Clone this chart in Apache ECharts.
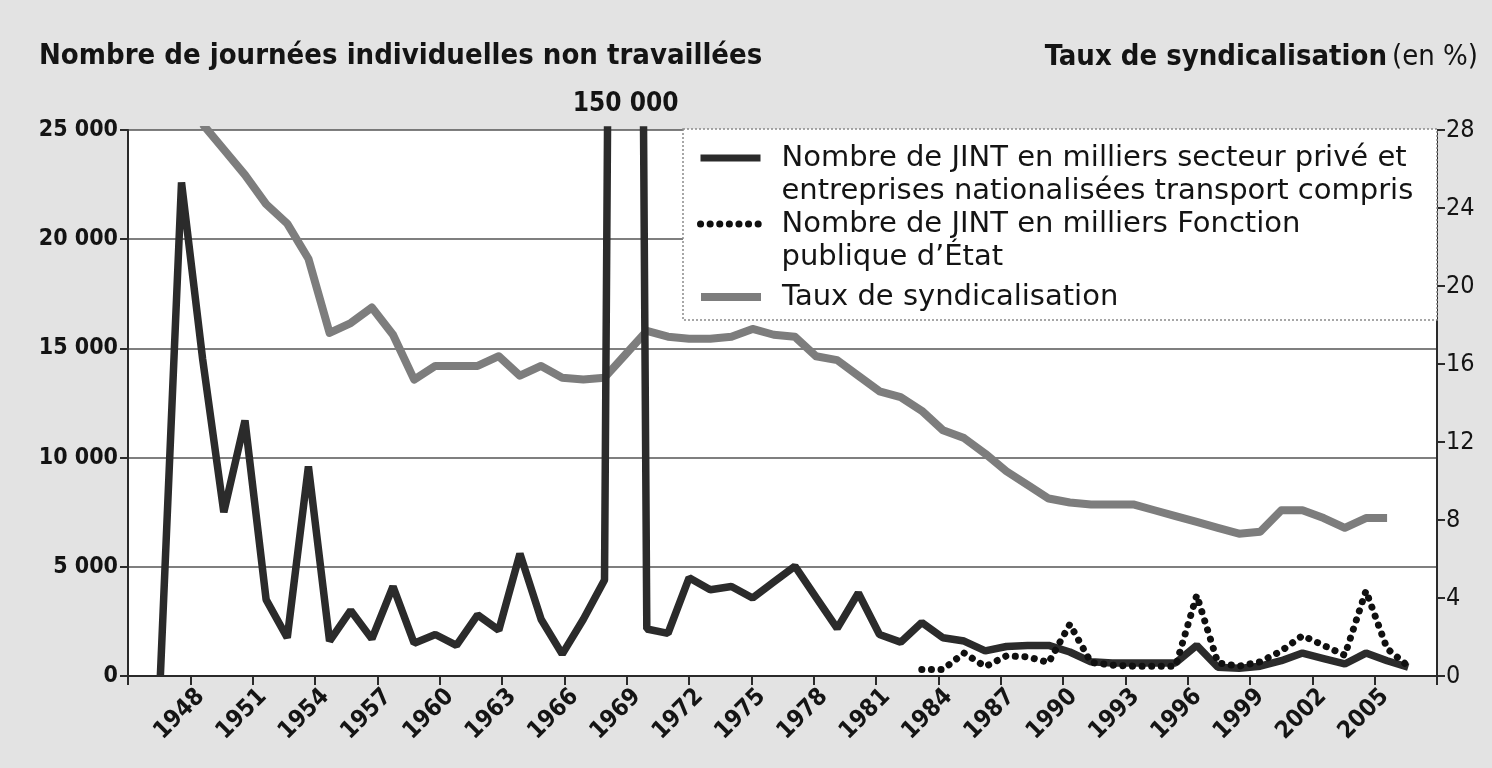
<!DOCTYPE html>
<html>
<head>
<meta charset="utf-8">
<script src="https://cdn.jsdelivr.net/npm/echarts@6/dist/echarts.min.js"></script>
<style>
html,body{margin:0;padding:0;background:#e3e3e3;}
#c{width:1492px;height:768px;}
</style>
</head>
<body>
<div id="c"></div>
<script>
// ---- Axis categories (years shown on the horizontal axis) ----
const axisYears = [1945,1946,1947,1948,1949,1950,1951,1952,1953,1954,1955,1956,1957,1958,1959,1960,1961,1962,1963,1964,1965,1966,1967,1968,1969,1970,1971,1972,1973,1974,1975,1976,1977,1978,1979,1980,1981,1982,1983,1984,1985,1986,1987,1988,1989,1990,1991,1992,1993,1994,1995,1996,1997,1998,1999,2000,2001,2002,2003,2004,2005,2006,2007];

// ---- JINT secteur privé et entreprises nationalisées (milliers) ----
const yearsPrive = [1946,1947,1948,1949,1950,1951,1952,1953,1954,1955,1956,1957,1958,1959,1960,1961,1962,1963,1964,1965,1966,1967,1968,1969,1970,1971,1972,1973,1974,1975,1976,1977,1978,1979,1980,1981,1982,1983,1984,1985,1986,1987,1988,1989,1990,1991,1992,1993,1994,1995,1996,1997,1998,1999,2000,2001,2002,2003,2004,2005];
const jintPrive = [0,22600,14500,7500,11700,3500,1750,9600,1600,3000,1700,4100,1500,1900,1400,2800,2100,5600,2600,1000,2600,4400,150000,2150,1950,4500,3950,4100,3570,4300,5030,3600,2180,3800,1900,1550,2450,1750,1600,1150,1350,1400,1400,1100,650,600,600,600,600,1400,400,350,450,700,1050,800,550,1050,700,400];

// ---- JINT Fonction publique d'État (milliers) ----
const yearsFPE = [1982,1983,1984,1985,1986,1987,1988,1989,1990,1991,1992,1993,1994,1995,1996,1997,1998,1999,2000,2001,2002,2003,2004,2005];
const jintFPE = [300,300,1050,430,920,880,620,2370,620,500,450,450,450,3700,600,450,650,1150,1850,1400,950,3900,1250,450];

// ---- Taux de syndicalisation (%) ----
const yearsTaux = [1948,1949,1950,1951,1952,1953,1954,1955,1956,1957,1958,1959,1960,1961,1962,1963,1964,1965,1966,1967,1968,1969,1970,1971,1972,1973,1974,1975,1976,1977,1978,1979,1980,1981,1982,1983,1984,1985,1986,1987,1988,1989,1990,1991,1992,1993,1994,1995,1996,1997,1998,1999,2000,2001,2002,2003,2004];
const tauxSynd = [28.3,27.0,25.7,24.2,23.2,21.4,17.6,18.1,18.9,17.5,15.2,15.9,15.9,15.9,16.4,15.4,15.9,15.3,15.2,15.3,16.5,17.7,17.4,17.3,17.3,17.4,17.8,17.5,17.4,16.4,16.2,15.4,14.6,14.3,13.6,12.6,12.2,11.4,10.5,9.8,9.1,8.9,8.8,8.8,8.8,8.5,8.2,7.9,7.6,7.3,7.4,8.5,8.5,8.1,7.6,8.1,8.1];

// ---- Texts ----
const titleLeft = 'Nombre de journées individuelles non travaillées';
const titleRightBold = 'Taux de syndicalisation';
const titleRightNormal = '(en %)';
const namePrive = 'Nombre de JINT en milliers secteur privé et\nentreprises nationalisées transport compris';
const nameFPE = 'Nombre de JINT en milliers Fonction\npublique d’État';
const nameTaux = 'Taux de syndicalisation';
const spikeLabel = '150 000';

const pairs = (xs, ys) => xs.map((x, i) => [x, ys[i]]);
const condensed = "'DejaVu Sans Condensed', 'Liberation Sans Narrow', 'DejaVu Sans', sans-serif";
const legendFont = {fontFamily: "'DejaVu Sans', sans-serif", fontSize: 29, color: '#141414', lineHeight: 33, padding: [0, 0, 0, 16]};
// two-line legend names: a leading empty line keeps the first line level with the icon
const firstLineOnIcon = (name) => '\n' + name;

const chart = echarts.init(document.getElementById('c'), null, {renderer: 'canvas'});
const legendBase = {left: 697, orient: 'vertical', padding: 0, selectedMode: false,
  itemWidth: 60, itemHeight: 12, itemStyle: {opacity: 0, borderWidth: 0}, textStyle: legendFont};
const option = {
  backgroundColor: '#e3e3e3',
  animation: false,
  title: [
    {text: titleLeft, left: 34, top: 37,
     textStyle: {fontFamily: condensed, fontSize: 29, fontWeight: 'bold', color: '#141414'}},
    {text: '{b|' + titleRightBold + '} {n|' + titleRightNormal + '}', right: 9, top: 38,
     textStyle: {rich: {
       b: {fontFamily: condensed, fontSize: 29, fontWeight: 'bold', color: '#141414'},
       n: {fontFamily: condensed, fontSize: 29, fontWeight: 'normal', color: '#141414'}
     }}}
  ],
  grid: {left: 128, right: 55, top: 130, bottom: 92, show: true, backgroundColor: '#ffffff', borderWidth: 0},
  graphic: [{
    type: 'rect', z: 1,
    shape: {x: 683, y: 129, width: 754, height: 191},
    style: {fill: '#ffffff', stroke: '#8a8a8a', lineWidth: 1.5, lineDash: [2, 2]}
  }],
  legend: [
    Object.assign({}, legendBase, {data: [namePrive], top: 108.5, lineStyle: {width: 7}, formatter: firstLineOnIcon}),
    Object.assign({}, legendBase, {data: [nameFPE], top: 174.5, lineStyle: {width: 7}, formatter: firstLineOnIcon}),
    Object.assign({}, legendBase, {data: [nameTaux], top: 280.5, lineStyle: {width: 8}})
  ],
  xAxis: [
    {type: 'value', min: 1944.47, max: 2006.36, show: false},
    {type: 'category', data: axisYears, boundaryGap: true, position: 'bottom',
     axisLine: {show: true, lineStyle: {color: '#2a2a2a', width: 2}},
     axisTick: {show: true, alignWithLabel: false, interval: (i) => i % 3 === 0, length: 9, lineStyle: {color: '#2a2a2a', width: 2}},
     axisLabel: {interval: (i) => i % 3 === 0 && i > 0, rotate: 45, margin: 17,
       fontFamily: condensed, fontSize: 24, fontWeight: 'bold', color: '#141414'},
     splitLine: {show: false}}
  ],
  yAxis: [
    {type: 'value', min: 0, max: 25000, interval: 5000, position: 'left',
     axisLine: {show: true, lineStyle: {color: '#2a2a2a', width: 2}},
     axisTick: {show: true, length: 8, lineStyle: {color: '#2a2a2a', width: 2}},
     axisLabel: {margin: 10, fontFamily: condensed, fontSize: 23, fontWeight: 'bold', color: '#141414',
       formatter: (v) => String(v).replace(/\B(?=(\d{3})+(?!\d))/g, ' ')},
     splitLine: {show: true, lineStyle: {color: '#555555', width: 1.5}}},
    {type: 'value', min: 0, max: 28, interval: 4, position: 'right',
     axisLine: {show: true, lineStyle: {color: '#2a2a2a', width: 2}},
     axisTick: {show: true, length: 8, lineStyle: {color: '#2a2a2a', width: 2}},
     axisLabel: {margin: 9, fontFamily: condensed, fontSize: 25, color: '#141414'},
     splitLine: {show: false}}
  ],
  series: [
    {name: nameTaux, type: 'line', xAxisIndex: 0, yAxisIndex: 1, data: pairs(yearsTaux, tauxSynd),
     symbol: 'none', z: 2, clip: true,
     lineStyle: {color: '#7d7d7d', width: 8, join: 'round'}, itemStyle: {color: '#7d7d7d'}},
    {name: namePrive, type: 'line', xAxisIndex: 0, yAxisIndex: 0, data: pairs(yearsPrive, jintPrive),
     symbol: 'none', z: 3, clip: true,
     lineStyle: {color: '#2b2b2b', width: 7.5}, itemStyle: {color: '#2b2b2b'},
     markPoint: {
       symbol: 'circle', symbolSize: 1, itemStyle: {color: 'rgba(0,0,0,0)'},
       data: [{coord: [1968, 25000], value: spikeLabel}],
       label: {show: true, position: 'top', distance: 12, formatter: spikeLabel,
         fontFamily: condensed, fontSize: 26, fontWeight: 'bold', color: '#141414'}
     }},
    {name: nameFPE, type: 'line', xAxisIndex: 0, yAxisIndex: 0, data: pairs(yearsFPE, jintFPE),
     symbol: 'none', z: 4, clip: true,
     lineStyle: {color: '#101010', width: 7, type: [0.1, 9.5], cap: 'round'}, itemStyle: {color: '#101010'}}
  ]
};
chart.setOption(option);
</script>
</body>
</html>
